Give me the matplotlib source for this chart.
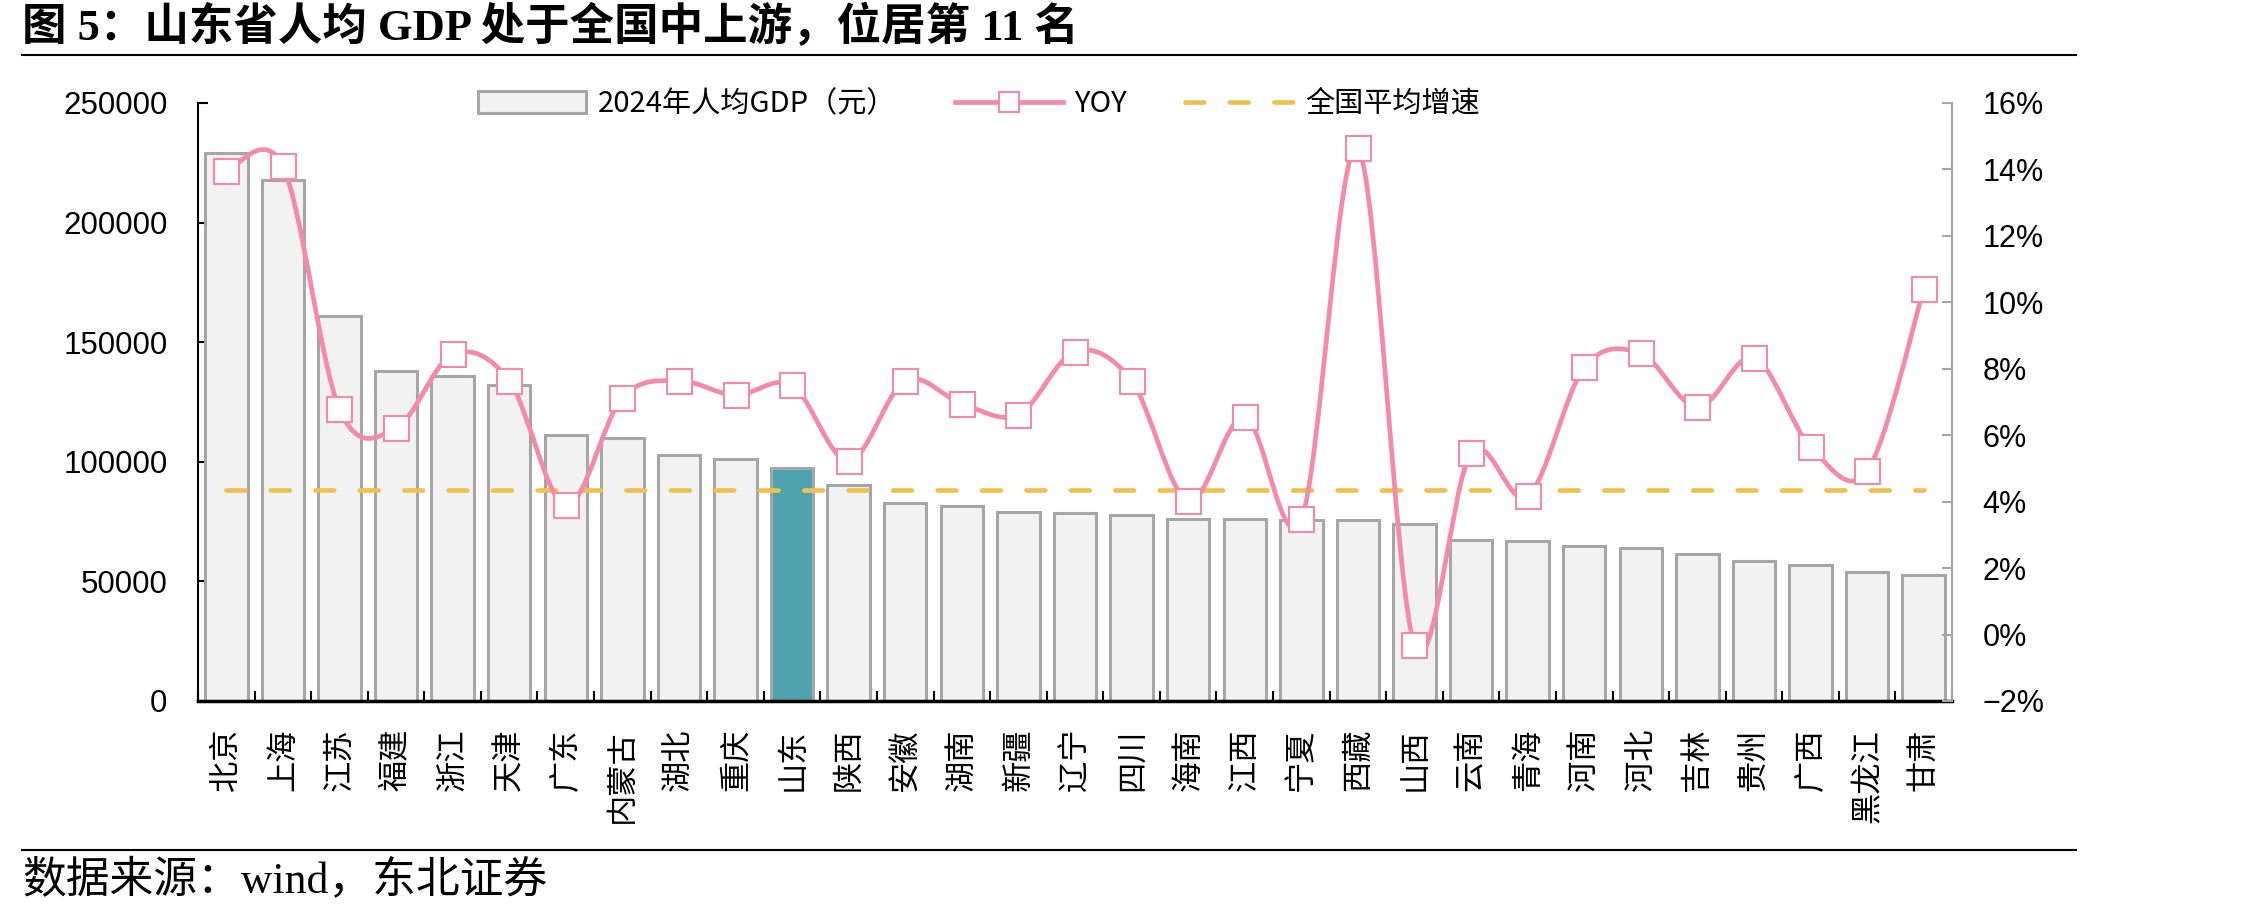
import matplotlib
matplotlib.use("Agg")
import matplotlib.pyplot as plt
from matplotlib.path import Path
from matplotlib.patches import PathPatch, Patch
from matplotlib.lines import Line2D
from matplotlib.ticker import FixedLocator, FuncFormatter
import numpy as np

plt.rcParams['font.family'] = ['Liberation Sans', 'Noto Sans CJK SC', 'DejaVu Sans']
plt.rcParams['lines.scale_dashes'] = False
plt.rcParams['axes.unicode_minus'] = True

provinces = ["北京", "上海", "江苏", "福建", "浙江", "天津", "广东", "内蒙古", "湖北", "重庆",
             "山东", "陕西", "安徽", "湖南", "新疆", "辽宁", "四川", "海南", "江西", "宁夏",
             "西藏", "山西", "云南", "青海", "河南", "河北", "吉林", "贵州", "广西", "黑龙江", "甘肃"]
gdp_per_capita = [228900, 217800, 161100, 138100, 136000, 132200, 111200, 110100, 103000, 101000,
                  97500, 90300, 82700, 81400, 78900, 78400, 77600, 75900, 75900, 75600,
                  75600, 73800, 67500, 66700, 64900, 64000, 61600, 58600, 56900, 54100, 52800]
yoy = [13.95, 14.10, 6.79, 6.21, 8.43, 7.64, 3.89, 7.13, 7.64, 7.20,
       7.50, 5.22, 7.64, 6.95, 6.62, 8.52, 7.64, 4.03, 6.55, 3.47,
       14.64, -0.31, 5.46, 4.16, 8.04, 8.46, 6.84, 8.33, 5.66, 4.92, 10.39]
national_avg = 4.35
highlight = "山东"

left_ticks = [0, 50000, 100000, 150000, 200000, 250000]
right_ticks = [-2, 0, 2, 4, 6, 8, 10, 12, 14, 16]

W, H = 2268, 917
fig = plt.figure(figsize=(W / 100, H / 100), dpi=100)
ax = fig.add_axes([198 / W, 1 - 701 / H, (1952 - 198) / W, (701 - 103) / H])
ax2 = ax.twinx()

x = np.arange(len(provinces))
face = ['#4fa3ae' if p == highlight else '#f2f2f2' for p in provinces]
ax.bar(x, gdp_per_capita, width=0.75, color=face, edgecolor='#a6a6a6', linewidth=2.2, zorder=2)
ax.set_xlim(-0.5, len(provinces) - 0.5)
ax.set_ylim(0, 250000)
ax.yaxis.set_major_locator(FixedLocator(left_ticks))
ax.yaxis.set_major_formatter(FuncFormatter(lambda v, p: f"{int(v)}"))
ax.set_xticks(x)
ax.set_xticklabels(provinces, rotation=90, va='top', ha='center', fontsize=22.5,
                   family=['Noto Sans CJK SC'])
ax.set_xticks(np.arange(-0.5, len(provinces), 1.0), minor=True)
ax.tick_params(axis='x', which='major', length=0, pad=20)
ax.tick_params(axis='x', which='minor', length=7, width=1.5, direction='in', color='black')
ax.tick_params(axis='y', which='major', length=7, width=1.5, direction='in', labelsize=22.5, pad=22)
for s in ['top', 'right']:
    ax.spines[s].set_visible(False)
ax.spines['left'].set_linewidth(1.5)
ax.spines['bottom'].set_linewidth(2.5)
ax.spines['bottom'].set_zorder(5)

# YOY smoothed line (Bezier, Catmull-Rom style control points)
ax2.set_ylim(-2, 16)
ax2.yaxis.set_major_locator(FixedLocator(right_ticks))
ax2.yaxis.set_major_formatter(FuncFormatter(
    lambda v, p: f"{int(round(v))}%".replace("-", "\u2212")))
ax2.tick_params(axis='y', length=7, width=1.5, direction='in', color='#a6a6a6', labelsize=22, pad=22)
for s in ['top', 'left', 'bottom']:
    ax2.spines[s].set_visible(False)
ax2.spines['right'].set_color('#a6a6a6')
ax2.spines['right'].set_linewidth(1.5)

pts = np.column_stack([x, yoy]).astype(float)
n = len(pts)
verts = [tuple(pts[0])]
codes = [Path.MOVETO]
for i in range(n - 1):
    p0 = pts[i - 1] if i > 0 else pts[i]
    p1 = pts[i]
    p2 = pts[i + 1]
    p3 = pts[i + 2] if i + 2 < n else pts[i + 1]
    c1 = p1 + (p2 - p0) / 6.0
    c2 = p2 - (p3 - p1) / 6.0
    verts += [tuple(c1), tuple(c2), tuple(p2)]
    codes += [Path.CURVE4] * 3
pink = '#f48aa7'
ax2.add_patch(PathPatch(Path(verts, codes), facecolor='none', edgecolor=pink, lw=3.4,
                        capstyle='round', joinstyle='round', zorder=4))
ax2.plot(x, yoy, ls='none', marker='s', markersize=18, markerfacecolor='white',
         markeredgecolor=pink, markeredgewidth=1.5, zorder=6)

gold = '#f0c050'
ax2.plot(x, [national_avg] * len(x), color=gold, lw=3.4, ls=(0, (13.5, 18.5)),
         dash_capstyle='round', zorder=3)

handles = [
    Patch(facecolor='#f2f2f2', edgecolor='#a6a6a6', linewidth=2.2),
    Line2D([0], [0], color=pink, lw=3.4, marker='s', markersize=14, markerfacecolor='white',
           markeredgecolor=pink, markeredgewidth=1.5),
    Line2D([0], [0], color=gold, lw=3.4, ls=(0, (13.5, 18.5)), dash_capstyle='round'),
]
labels = ["2024年人均GDP（元）", "YOY", "全国平均增速"]
leg = fig.legend(handles, labels, loc='center left', bbox_to_anchor=(452 / W, 1 - 104 / H),
                 ncol=3, frameon=False, handlelength=3.7, handleheight=0.75,
                 columnspacing=2.0, handletextpad=0.4,
                 prop={'family': ['Noto Sans CJK SC'], 'size': 21})

fig.text(22 / W, 1 - 27 / H, "图 5：山东省人均 GDP 处于全国中上游，位居第 11 名",
         fontsize=32, fontweight='bold', va='center', ha='left',
         family=['Liberation Serif', 'Noto Sans CJK SC'])
fig.add_artist(Line2D([22 / W, 2076 / W], [1 - 55 / H] * 2, transform=fig.transFigure,
                      color='black', lw=1.5))
fig.add_artist(Line2D([22 / W, 2076 / W], [1 - 850 / H] * 2, transform=fig.transFigure,
                      color='black', lw=1.5))
fig.text(22 / W, 1 - 880 / H, "数据来源：wind，东北证券", fontsize=31.5, va='center', ha='left',
         family=['Liberation Serif', 'Noto Sans CJK SC'])

fig.savefig("out.png", dpi=100)
